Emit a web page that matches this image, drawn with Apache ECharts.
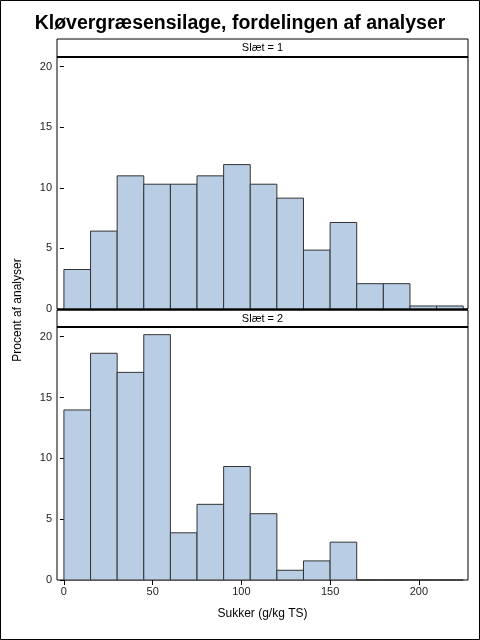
<!DOCTYPE html>
<html>
<head>
<meta charset="utf-8">
<script src="https://cdn.jsdelivr.net/npm/echarts@6/dist/echarts.min.js"></script>
<style>
html,body{margin:0;padding:0;background:#fff;}
#c{width:480px;height:640px;box-sizing:border-box;}
</style>
</head>
<body>
<div id="c"></div>
<script>
const titleText = 'Kløvergræsensilage, fordelingen af analyser';
const panelLabels = ['Slæt = 1', 'Slæt = 2'];
const xAxisName = 'Sukker (g/kg TS)';
const yAxisName = 'Procent af analyser';
const binStarts = [0, 15, 30, 45, 60, 75, 90, 105, 120, 135, 150, 165, 180, 195, 210];
const binWidth = 15;
const slaet1 = [3.26, 6.43, 10.99, 10.3, 10.3, 10.99, 11.92, 10.3, 9.15, 4.86, 7.14, 2.09, 2.09, 0.25, 0.25];
const slaet2 = [13.98, 18.64, 17.07, 20.17, 3.88, 6.22, 9.33, 5.45, 0.80, 1.57, 3.11, 0, 0, 0, 0];
const xTicks = [0, 50, 100, 150, 200];
const yTicks = [0, 5, 10, 15, 20];

const FONT = '"Liberation Sans", Arial, sans-serif';
const chart = echarts.init(document.getElementById('c'), null, {renderer: 'canvas'});

function toData(vals) {
  return binStarts.map((s, i) => [s, s + binWidth, vals[i]]);
}
function renderItem(params, api) {
  const s = api.value(0), e = api.value(1), v = api.value(2);
  const p0 = api.coord([s, 0]);
  const p1 = api.coord([e, v]);
  return {
    type: 'rect',
    shape: {x: p0[0], y: p1[1], width: p1[0] - p0[0], height: p0[1] - p1[1]},
    style: {fill: '#B9CDE5', stroke: '#333', lineWidth: 1}
  };
}

const L = 57, R = 12, W = 480 - L - R;
const grids = [
  {left: L, right: R, top: 57, height: 252, show: true, borderColor: '#000', borderWidth: 1, backgroundColor: '#fff'},
  {left: L, right: R, top: 327, height: 253, show: true, borderColor: '#000', borderWidth: 1, backgroundColor: '#fff'}
];

function xAxis(idx, showLabels) {
  return {
    type: 'value', gridIndex: idx, min: -3.9, max: 227.7,
    axisLine: {show: false},
    splitLine: {show: false},
    axisTick: {show: showLabels, customValues: xTicks, length: 5, lineStyle: {color: '#000'}},
    axisLabel: {show: showLabels, customValues: xTicks, fontFamily: FONT, fontSize: 11, color: '#222', margin: 6}
  };
}
function yAxis(idx) {
  return {
    type: 'value', gridIndex: idx, min: 0, max: 20.8,
    axisLine: {show: false},
    splitLine: {show: false},
    axisTick: {show: true, customValues: yTicks, length: 4, lineStyle: {color: '#000'}},
    axisLabel: {customValues: yTicks, fontFamily: FONT, fontSize: 11, color: '#222', margin: 5}
  };
}

function strip(y, h, label) {
  return [
    {type: 'rect', shape: {x: L, y: y, width: W, height: h}, style: {fill: '#fff', stroke: '#000', lineWidth: 1}, z: 10},
    {type: 'line', shape: {x1: L, y1: y + h, x2: L + W, y2: y + h}, style: {stroke: '#000', lineWidth: 2}, z: 11},
    {type: 'text', x: L + W / 2, y: y + h / 2, style: {text: label, fontFamily: FONT, fontSize: 11, fill: '#000', align: 'center', verticalAlign: 'middle'}, z: 12}
  ];
}

chart.setOption({
  animation: false,
  backgroundColor: '#fff',
  title: {text: titleText, left: 'center', top: 9, textStyle: {fontFamily: FONT, fontSize: 19.5, fontWeight: 'bold', color: '#000'}},
  grid: grids,
  xAxis: [xAxis(0, false), xAxis(1, true)],
  yAxis: [yAxis(0), yAxis(1)],
  series: [
    {type: 'custom', xAxisIndex: 0, yAxisIndex: 0, renderItem: renderItem, encode: {x: [0, 1], y: 2}, data: toData(slaet1)},
    {type: 'custom', xAxisIndex: 1, yAxisIndex: 1, renderItem: renderItem, encode: {x: [0, 1], y: 2}, data: toData(slaet2)}
  ],
  graphic: [
    {type: 'rect', shape: {x: 0.5, y: 0.5, width: 479, height: 639}, style: {fill: null, stroke: '#000', lineWidth: 1}, z: 20},
    ...strip(39, 18, panelLabels[0]),
    ...strip(310, 17, panelLabels[1]),
    {type: 'line', shape: {x1: L, y1: 309.5, x2: L + W, y2: 309.5}, style: {stroke: '#000', lineWidth: 2}, z: 11},
    {type: 'text', x: 18, y: 310, rotation: Math.PI / 2, style: {text: yAxisName, fontFamily: FONT, fontSize: 12, fill: '#000', align: 'center', verticalAlign: 'middle'}},
    {type: 'text', x: L + W / 2, y: 614, style: {text: xAxisName, fontFamily: FONT, fontSize: 12, fill: '#000', align: 'center', verticalAlign: 'middle'}}
  ]
});
</script>
</body>
</html>
